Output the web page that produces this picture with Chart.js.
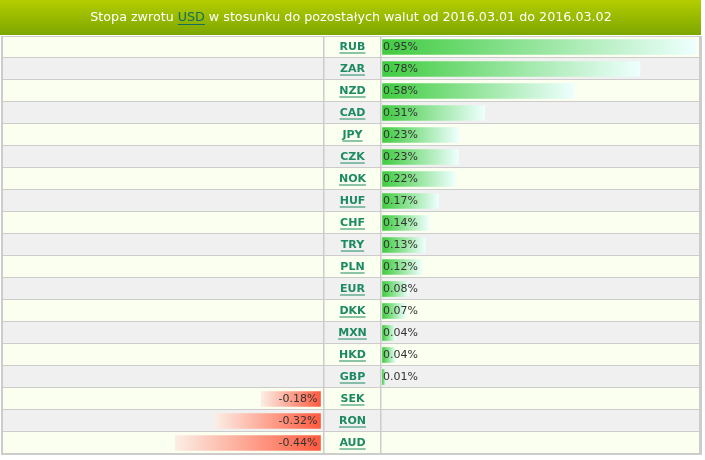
<!DOCTYPE html>
<html>
<head>
<meta charset="utf-8">
<script src="https://cdn.jsdelivr.net/npm/chart.js@4"></script>
<style>
  html, body { margin:0; padding:0; background:#fff; }
  #wrap { position:relative; width:705px; height:460px; }
</style>
</head>
<body>
<div id="wrap"><canvas id="chart" width="705" height="460"></canvas></div>
<script>
/* data */
const currencies = ['RUB','ZAR','NZD','CAD','JPY','CZK','NOK','HUF','CHF','TRY','PLN','EUR','DKK','MXN','HKD','GBP','SEK','RON','AUD'];
const returns    = [0.95,0.78,0.58,0.31,0.23,0.23,0.22,0.17,0.14,0.13,0.12,0.08,0.07,0.04,0.04,0.01,-0.18,-0.32,-0.44];
const baseCurrency = 'USD';
const dateFrom = '2016.03.01';
const dateTo   = '2016.03.02';

/* layout */
const HEAD_H = 35;
const BODY = {left:3, right:699, top:36, bottom:454};
const COL_L = 323, COL_R = 380;      // column separators
const ZERO_NEG = 320.5, ZERO_POS = 382.5;
const PX_PER_PCT = 330;
const bodyW = BODY.right - BODY.left;
const posMin = -(ZERO_POS - BODY.left) / PX_PER_PCT;
const negMin = -(ZERO_NEG - BODY.left) / PX_PER_PCT;

const FONT = '"DejaVu Sans", Verdana, sans-serif';

function barGradient(axisId, strong, light) {
  return ctx => {
    const c = ctx.chart, s = c.scales[axisId];
    if (!s || ctx.raw == null) return strong;
    const x0 = s.getPixelForValue(0), x1 = s.getPixelForValue(ctx.raw);
    if (!isFinite(x0) || !isFinite(x1) || x0 === x1) return strong;
    const g = c.ctx.createLinearGradient(x0, 0, x1, 0);
    g.addColorStop(0, strong);
    g.addColorStop(1, light);
    return g;
  };
}

const tablePlugin = {
  id: 'table',
  beforeDraw(chart) {
    const {ctx} = chart;
    const y = chart.scales.y;
    ctx.save();
    // header
    const hg = ctx.createLinearGradient(0, 0, 0, HEAD_H);
    hg.addColorStop(0, '#b4cd00');
    hg.addColorStop(1, '#7ca600');
    ctx.fillStyle = hg;
    ctx.fillRect(0, 0, 701, HEAD_H);
    // title
    ctx.font = '12.7px ' + FONT;
    ctx.textBaseline = 'middle';
    const p1 = 'Stopa zwrotu ', p2 = baseCurrency,
          p3 = ' w stosunku do pozostałych walut od ' + dateFrom + ' do ' + dateTo;
    const w1 = ctx.measureText(p1).width, w2 = ctx.measureText(p2).width, w3 = ctx.measureText(p3).width;
    let tx = 351 - (w1 + w2 + w3) / 2;
    const ty = 18;
    ctx.fillStyle = '#ffffff';
    ctx.fillText(p1, tx, ty);
    ctx.fillStyle = '#136f5e';
    ctx.fillText(p2, tx + w1, ty);
    ctx.fillRect(tx + w1, ty + 6, w2, 1);
    ctx.fillStyle = '#ffffff';
    ctx.fillText(p3, tx + w1 + w2, ty);
    // border
    ctx.fillStyle = '#cccccc';
    ctx.fillRect(1, BODY.top, 701, BODY.bottom - BODY.top + 1);
    // rows
    currencies.forEach((c, i) => {
      const cy = y.getPixelForValue(i);
      const top = cy - 11;
      ctx.fillStyle = i % 2 === 0 ? '#fafff0' : '#f0f0f0';
      ctx.fillRect(BODY.left, top + (i === 0 ? 1 : 0), bodyW, 22 - (i === 0 ? 1 : 0) - 1);
    });
    // columns
    ctx.fillStyle = '#cccccc';
    ctx.fillRect(COL_L, BODY.top, 1.5, BODY.bottom - BODY.top);
    ctx.fillRect(COL_R, BODY.top, 1.5, BODY.bottom - BODY.top);
    ctx.restore();
  },
  afterDatasetsDraw(chart) {
    const {ctx} = chart;
    const y = chart.scales.y, xp = chart.scales.xp, xn = chart.scales.xn;
    ctx.save();
    ctx.textBaseline = 'middle';
    currencies.forEach((c, i) => {
      const cy = y.getPixelForValue(i) + 0.5;
      const v = returns[i];
      ctx.font = '11px ' + FONT;
      ctx.fillStyle = '#333333';
      const txt = v.toFixed(2) + '%';
      if (v >= 0) {
        ctx.textAlign = 'left';
        ctx.fillText(txt, xp.getPixelForValue(0) + 0.5, cy);
      } else {
        ctx.textAlign = 'right';
        ctx.fillText(txt, xn.getPixelForValue(0) - 3, cy);
      }
      // currency label
      ctx.font = 'bold 11px ' + FONT;
      ctx.fillStyle = '#1d8a62';
      ctx.textAlign = 'center';
      const lx = (COL_L + COL_R) / 2 + 1;
      ctx.fillText(c, lx, cy);
      const lw = ctx.measureText(c).width;
      ctx.fillRect(lx - lw / 2, cy + 5, lw, 1);
    });
    ctx.restore();
  }
};

new Chart(document.getElementById('chart'), {
  type: 'bar',
  data: {
    labels: currencies,
    datasets: [
      {
        data: returns.map(v => v > 0 ? v : null),
        xAxisID: 'xp',
        grouped: false,
        barThickness: 15,
        borderWidth: 0,
        backgroundColor: barGradient('xp', '#40cc40', '#eefffe')
      },
      {
        data: returns.map(v => v < 0 ? v : null),
        xAxisID: 'xn',
        grouped: false,
        barThickness: 15,
        borderWidth: 0,
        backgroundColor: barGradient('xn', '#ff5a3e', '#fbeee5')
      }
    ]
  },
  options: {
    indexAxis: 'y',
    responsive: false,
    animation: false,
    layout: { padding: {left: BODY.left, right: 705 - BODY.right, top: BODY.top, bottom: 460 - BODY.bottom} },
    plugins: { legend: {display: false}, tooltip: {enabled: false} },
    scales: {
      y:  { display: false, offset: true },
      xp: { type: 'linear', display: false, min: posMin, max: posMin + bodyW / PX_PER_PCT },
      xn: { type: 'linear', display: false, min: negMin, max: negMin + bodyW / PX_PER_PCT }
    }
  },
  plugins: [tablePlugin]
});
</script>
</body>
</html>
